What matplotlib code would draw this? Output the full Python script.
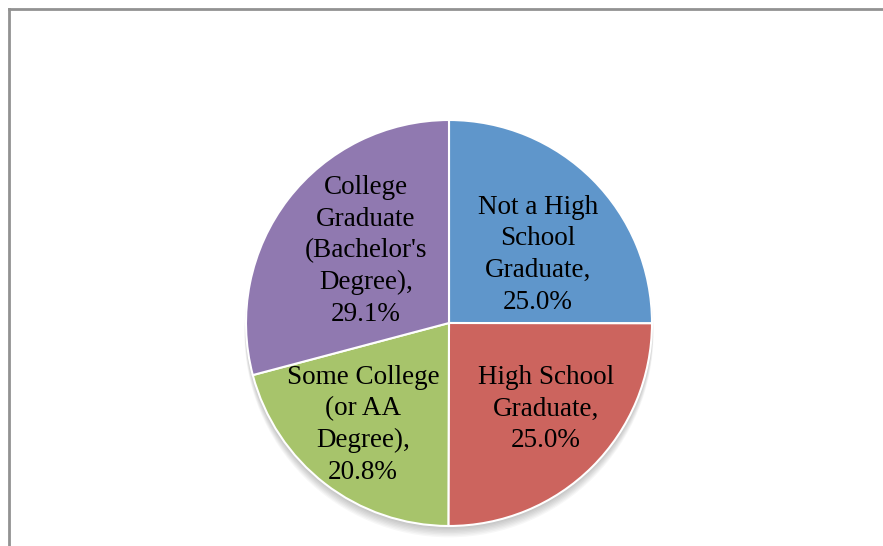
import matplotlib
matplotlib.use("Agg")
import matplotlib.pyplot as plt
from matplotlib.patches import Circle
from matplotlib.lines import Line2D

# Educational attainment shares (percent)
categories = [
    "Not a High\nSchool\nGraduate",
    "High School\nGraduate",
    "Some College\n(or AA\nDegree)",
    "College\nGraduate\n(Bachelor's\nDegree)",
]
shares = [25.0, 25.0, 20.8, 29.1]
colors = ["#5F96CB", "#CC645E", "#A7C46B", "#9079B0"]

# label centres in pie units (radius = 1)
label_pos = [(0.438, 0.337), (0.478, -0.424), (-0.424, -0.502), (-0.409, 0.355)]

W, H, DPI = 883, 546, 100
fig = plt.figure(figsize=(W / DPI, H / DPI), dpi=DPI)
fig.patch.set_facecolor("white")

# chart frame (top and left edges visible)
frame_kw = dict(color="#929292", linewidth=2.0, transform=fig.transFigure)
fig.add_artist(Line2D([9 / W, 1.0], [1 - 9 / H, 1 - 9 / H], **frame_kw))
fig.add_artist(Line2D([9 / W, 9 / W], [1 - 9 / H, 0.0], **frame_kw))

cx, cy, r = 449, 323, 203
ax = fig.add_axes([(cx - r) / W, (H - cy - r) / H, 2 * r / W, 2 * r / H])

# soft drop shadow under the pie
for k in range(1, 9):
    ax.add_patch(Circle((0, -0.006 * k), 1.0 + 0.001 * k, facecolor="black",
                        alpha=0.03, edgecolor="none", zorder=0, clip_on=False))

wedges, _ = ax.pie(shares, colors=colors, startangle=90, counterclock=False,
                   radius=1.0, normalize=True,
                   wedgeprops=dict(edgecolor="white", linewidth=1.5))
for w in wedges:
    w.set_zorder(2)
    w.set_clip_on(False)

for cat, val, (x, y) in zip(categories, shares, label_pos):
    ax.text(x, y, f"{cat},\n{val:.1f}%", ha="center", va="center",
            fontsize=19.5, family="Liberation Serif", color="black",
            linespacing=1.35, zorder=3)

ax.set_xlim(-1, 1)
ax.set_ylim(-1, 1)
ax.set_aspect("equal")
ax.axis("off")

fig.savefig("out.png", dpi=DPI, facecolor="white")
